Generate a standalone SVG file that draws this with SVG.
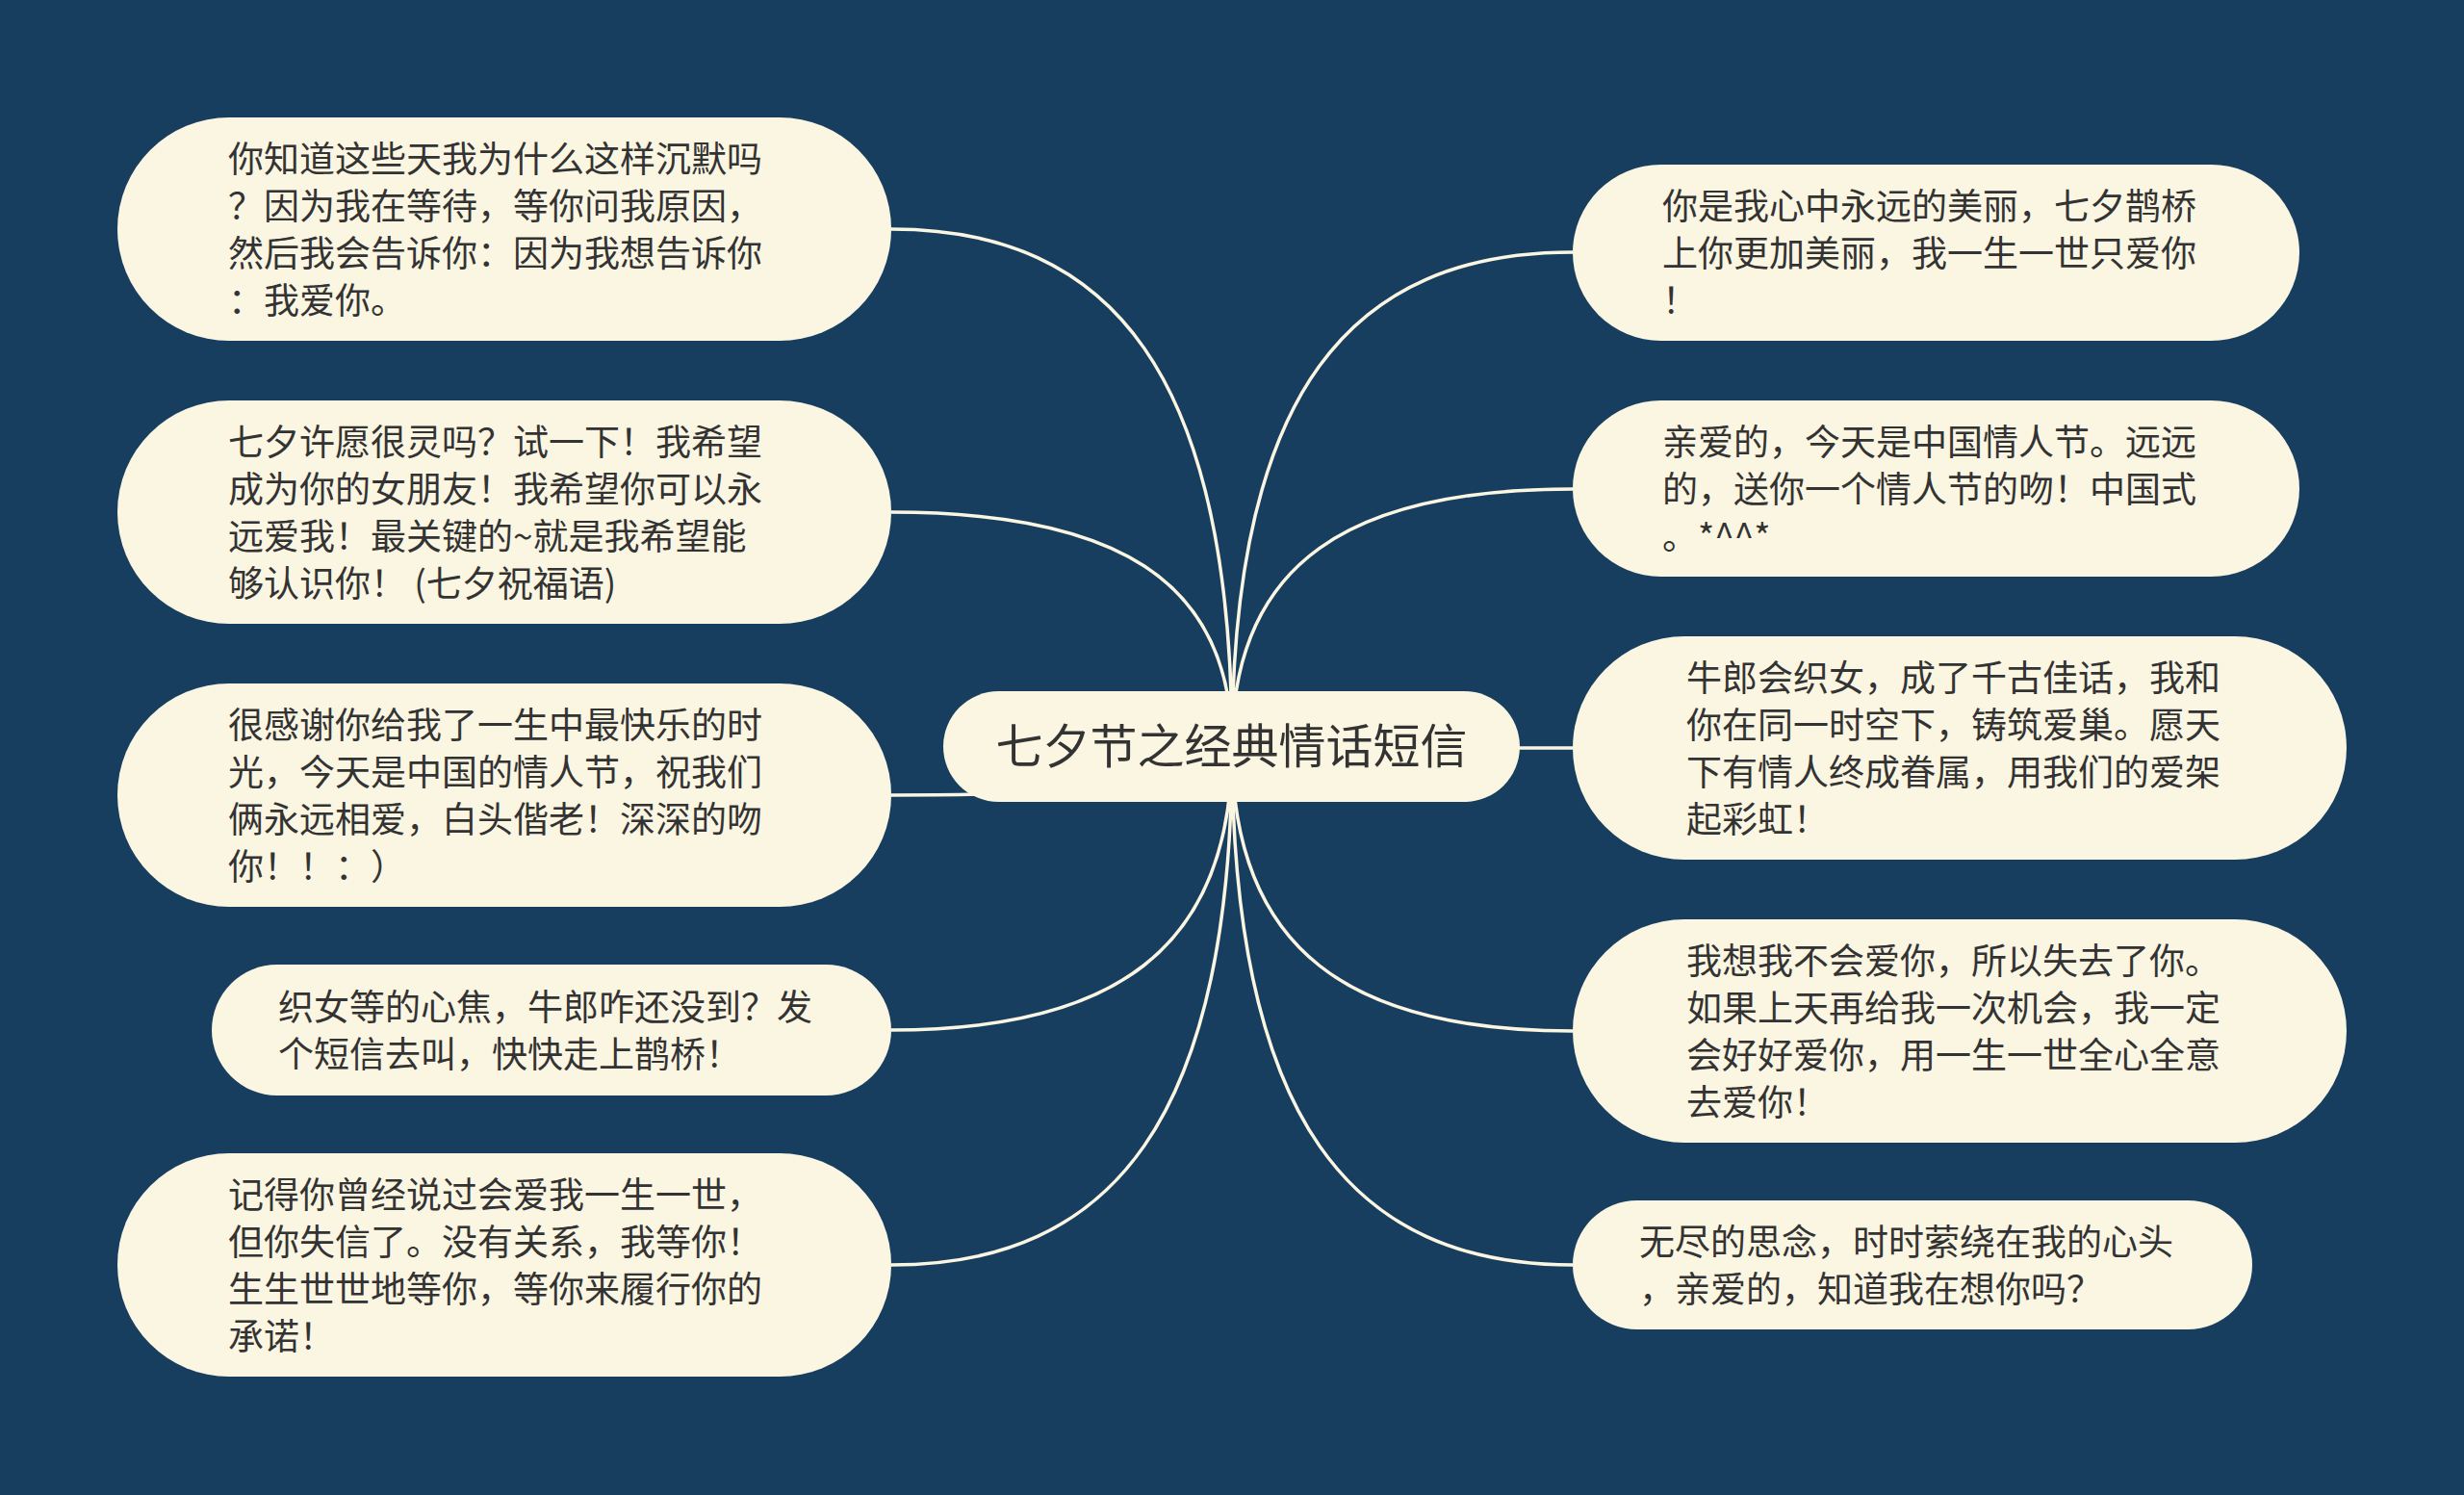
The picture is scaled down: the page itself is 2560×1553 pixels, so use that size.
<svg xmlns="http://www.w3.org/2000/svg" width="2560" height="1553" viewBox="0 0 2560 1553">
<style>
.bg{fill:#173e5f}
.node rect{fill:#fbf6e2}
.node text{font-family:"Noto Sans CJK SC","Noto Sans",sans-serif;font-size:37px;fill:#333333;text-spacing-trim:space-all}
.center text{font-size:49px}
.edge{fill:none;stroke:#fbf6e2;stroke-width:3.5}
</style>
<rect class="bg" x="0" y="0" width="2560" height="1553"/>
<g id="connectors">
<path class="edge" d="M926,238 C1155,238 1280,389 1280,776"/>
<path class="edge" d="M926,532 C1155,532 1280,600 1280,776"/>
<path class="edge" d="M926,826 C1155,826 1280,812 1280,776"/>
<path class="edge" d="M926,1070 C1155,1070 1280,988 1280,776"/>
<path class="edge" d="M926,1314 C1155,1314 1280,1163 1280,776"/>
<path class="edge" d="M1634,262 C1404,262 1280,406 1280,776"/>
<path class="edge" d="M1634,508 C1404,508 1280,583 1280,776"/>
<path class="edge" d="M1634,777 L1280,777"/>
<path class="edge" d="M1634,1071 C1404,1071 1280,988 1280,776"/>
<path class="edge" d="M1634,1314 C1404,1314 1280,1163 1280,776"/>
</g>
<g id="center" class="node center">
<rect x="980" y="718" width="599" height="115" rx="57.5"/>
<text x="1279.5" y="793" text-anchor="middle">七夕节之经典情话短信</text>
</g>
<g id="L1" class="node">
<rect x="122" y="122" width="804" height="232" rx="116"/>
<text x="237" y="178.5"><tspan x="237">你知道这些天我为什么这样沉默吗</tspan><tspan x="237" dy="49">？因为我在等待，等你问我原因，</tspan><tspan x="237" dy="49">然后我会告诉你：因为我想告诉你</tspan><tspan x="237" dy="49">：我爱你。</tspan></text>
</g>
<g id="L2" class="node">
<rect x="122" y="416" width="804" height="232" rx="116"/>
<text x="237" y="472.5"><tspan x="237">七夕许愿很灵吗？试一下！我希望</tspan><tspan x="237" dy="49">成为你的女朋友！我希望你可以永</tspan><tspan x="237" dy="49">远爱我！最关键的~就是我希望能</tspan><tspan x="237" dy="49">够认识你！ (七夕祝福语)</tspan></text>
</g>
<g id="L3" class="node">
<rect x="122" y="710" width="804" height="232" rx="116"/>
<text x="237" y="766.5"><tspan x="237">很感谢你给我了一生中最快乐的时</tspan><tspan x="237" dy="49">光，今天是中国的情人节，祝我们</tspan><tspan x="237" dy="49">俩永远相爱，白头偕老！深深的吻</tspan><tspan x="237" dy="49">你！！：）</tspan></text>
</g>
<g id="L4" class="node">
<rect x="220" y="1002" width="706" height="136" rx="68"/>
<text x="289" y="1059.5"><tspan x="289">织女等的心焦，牛郎咋还没到？发</tspan><tspan x="289" dy="49">个短信去叫，快快走上鹊桥！</tspan></text>
</g>
<g id="L5" class="node">
<rect x="122" y="1198" width="804" height="232" rx="116"/>
<text x="237" y="1254.5"><tspan x="237">记得你曾经说过会爱我一生一世，</tspan><tspan x="237" dy="49">但你失信了。没有关系，我等你！</tspan><tspan x="237" dy="49">生生世世地等你，等你来履行你的</tspan><tspan x="237" dy="49">承诺！</tspan></text>
</g>
<g id="R1" class="node">
<rect x="1634" y="171" width="755" height="183" rx="91.5"/>
<text x="1727" y="227.5"><tspan x="1727">你是我心中永远的美丽，七夕鹊桥</tspan><tspan x="1727" dy="49">上你更加美丽，我一生一世只爱你</tspan><tspan x="1727" dy="49">！</tspan></text>
</g>
<g id="R2" class="node">
<rect x="1634" y="416" width="755" height="183" rx="91.5"/>
<text x="1727" y="472.5"><tspan x="1727">亲爱的，今天是中国情人节。远远</tspan><tspan x="1727" dy="49">的，送你一个情人节的吻！中国式</tspan><tspan x="1727" dy="49">。*^^*</tspan></text>
</g>
<g id="R3" class="node">
<rect x="1634" y="661" width="804" height="232" rx="116"/>
<text x="1752" y="717.5"><tspan x="1752">牛郎会织女，成了千古佳话，我和</tspan><tspan x="1752" dy="49">你在同一时空下，铸筑爱巢。愿天</tspan><tspan x="1752" dy="49">下有情人终成眷属，用我们的爱架</tspan><tspan x="1752" dy="49">起彩虹！</tspan></text>
</g>
<g id="R4" class="node">
<rect x="1634" y="955" width="804" height="232" rx="116"/>
<text x="1752" y="1011.5"><tspan x="1752">我想我不会爱你，所以失去了你。</tspan><tspan x="1752" dy="49">如果上天再给我一次机会，我一定</tspan><tspan x="1752" dy="49">会好好爱你，用一生一世全心全意</tspan><tspan x="1752" dy="49">去爱你！</tspan></text>
</g>
<g id="R5" class="node">
<rect x="1634" y="1247" width="706" height="134" rx="67"/>
<text x="1703" y="1303.5"><tspan x="1703">无尽的思念，时时萦绕在我的心头</tspan><tspan x="1703" dy="49">，亲爱的，知道我在想你吗？</tspan></text>
</g>
</svg>
